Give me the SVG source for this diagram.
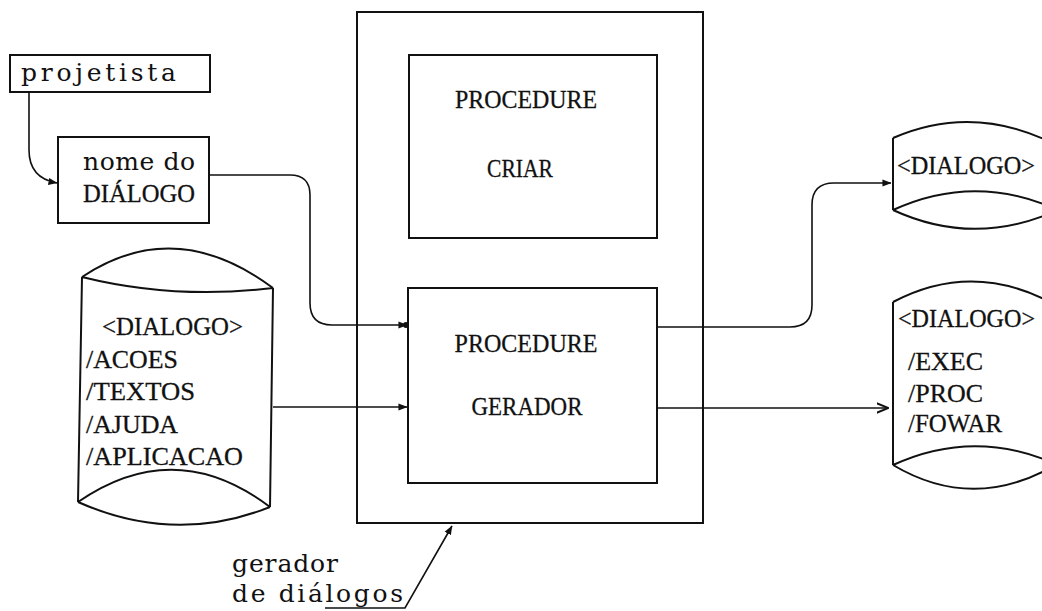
<svg xmlns="http://www.w3.org/2000/svg" width="1042" height="611" viewBox="0 0 1042 611">
  <style>
    .shape { fill: none; stroke: #111; stroke-width: 2; }
    .wire { fill: none; stroke: #111; stroke-width: 1.6; }
    .txt { font-family: "Liberation Serif", "DejaVu Serif", serif; font-size: 26px; fill: #111; stroke: #111; stroke-width: 0.3; }
    .low { font-family: "DejaVu Serif", "Liberation Serif", serif; font-size: 25px; stroke-width: 0; }
    .edge { font-size: 24.5px; }
    .mid { text-anchor: middle; }
  </style>
  <defs>
    <marker id="arrow" viewBox="0 0 10 10" refX="9.5" refY="5" markerWidth="9" markerHeight="9" markerUnits="userSpaceOnUse" orient="auto">
      <path d="M0,1 L10,5 L0,9 Z" fill="#111"/>
    </marker>
    <marker id="arrowOpen" viewBox="0 0 10 10" refX="9.5" refY="5" markerWidth="12" markerHeight="12" markerUnits="userSpaceOnUse" orient="auto">
      <path d="M0,1 L10,5 L0,9" fill="none" stroke="#111" stroke-width="1.6"/>
    </marker>
  </defs>
  <rect width="1042" height="611" fill="#fff"/>

  <!-- designer -->
  <g id="projetista">
    <rect class="shape" x="10" y="55" width="200" height="37"/>
    <text class="txt low" x="21" y="81" textLength="155" lengthAdjust="spacing">projetista</text>
  </g>

  <!-- dialogue name -->
  <g id="nome-dialogo">
    <rect class="shape" x="58" y="137" width="151" height="86"/>
    <text class="txt low" x="83" y="170" textLength="112" lengthAdjust="spacing">nome do</text>
    <text class="txt" x="83" y="202" textLength="112" lengthAdjust="spacingAndGlyphs">DIÁLOGO</text>
  </g>

  <!-- source dialogue store -->
  <g id="dialogo-fonte">
    <path class="shape" d="M82,277 Q175,215 273,288 M82,277 Q175,300 273,288 M82,277 L78,502 M273,288 L270,507 M78,502 Q175,435 270,507 M78,502 Q175,545 270,507"/>
    <text class="txt" x="102" y="335" textLength="141" lengthAdjust="spacingAndGlyphs">&lt;DIALOGO&gt;</text>
    <text class="txt" x="86" y="368" textLength="92" lengthAdjust="spacingAndGlyphs">/ACOES</text>
    <text class="txt" x="86" y="400" textLength="109" lengthAdjust="spacingAndGlyphs">/TEXTOS</text>
    <text class="txt" x="86" y="433" textLength="92" lengthAdjust="spacingAndGlyphs">/AJUDA</text>
    <text class="txt" x="86" y="465" textLength="157" lengthAdjust="spacingAndGlyphs">/APLICACAO</text>
  </g>

  <!-- generator container -->
  <g id="gerador-dialogos">
    <rect class="shape" x="357" y="12" width="346" height="511"/>
  </g>

  <g id="procedure-criar">
    <rect class="shape" x="409" y="55" width="248" height="183"/>
    <text class="txt mid" x="526" y="108" textLength="142" lengthAdjust="spacingAndGlyphs">PROCEDURE</text>
    <text class="txt mid" x="520" y="177" textLength="66" lengthAdjust="spacingAndGlyphs">CRIAR</text>
  </g>

  <g id="procedure-gerador">
    <rect class="shape" x="408" y="288" width="249" height="195"/>
    <text class="txt mid" x="526" y="352" textLength="143" lengthAdjust="spacingAndGlyphs">PROCEDURE</text>
    <text class="txt mid" x="527" y="415" textLength="111" lengthAdjust="spacingAndGlyphs">GERADOR</text>
  </g>

  <!-- output stores -->
  <g id="dialogo-saida-1">
    <path class="shape" d="M893,138 Q969,105 1046,140 M893,138 L893,210 M893,210 Q969,175 1046,205 M893,210 Q969,245 1046,215"/>
    <text class="txt edge" x="897" y="174" textLength="138" lengthAdjust="spacingAndGlyphs">&lt;DIALOGO&gt;</text>
  </g>

  <g id="dialogo-saida-2">
    <path class="shape" d="M893,302 Q969,262 1046,300 M893,302 L893,465 M893,465 Q969,430 1046,460 M893,465 Q969,510 1046,470"/>
    <text class="txt edge" x="898" y="327" textLength="137" lengthAdjust="spacingAndGlyphs">&lt;DIALOGO&gt;</text>
    <text class="txt" x="908" y="370" textLength="75" lengthAdjust="spacingAndGlyphs">/EXEC</text>
    <text class="txt" x="908" y="402" textLength="75" lengthAdjust="spacingAndGlyphs">/PROC</text>
    <text class="txt" x="908" y="432" textLength="94" lengthAdjust="spacingAndGlyphs">/FOWAR</text>
  </g>

  <!-- label for the container -->
  <g id="rotulo-gerador">
    <text class="txt low" x="232" y="572" textLength="106" lengthAdjust="spacing">gerador</text>
    <text class="txt low" x="232" y="602" textLength="171" lengthAdjust="spacing">de diálogos</text>
  </g>

  <g id="connectors">
    <path class="wire" d="M29,92 V150 C29,170 40,180 57,183" marker-end="url(#arrow)"/>
    <path class="wire" d="M209,175 H290 Q310,175 310,195 V303 Q310,325 332,325 H407" marker-end="url(#arrow)"/>
    <circle cx="406" cy="325" r="3" fill="#111"/>
    <path class="wire" d="M273,407 H407" marker-end="url(#arrow)"/>
    <path class="wire" d="M657,327 H790 Q812,327 812,305 V205 Q812,183 834,183 H891" marker-end="url(#arrow)"/>
    <path class="wire" d="M657,408 H888" marker-end="url(#arrowOpen)"/>
    <path class="wire" d="M325,608 H405 L452,526" marker-end="url(#arrow)"/>
  </g>
</svg>
